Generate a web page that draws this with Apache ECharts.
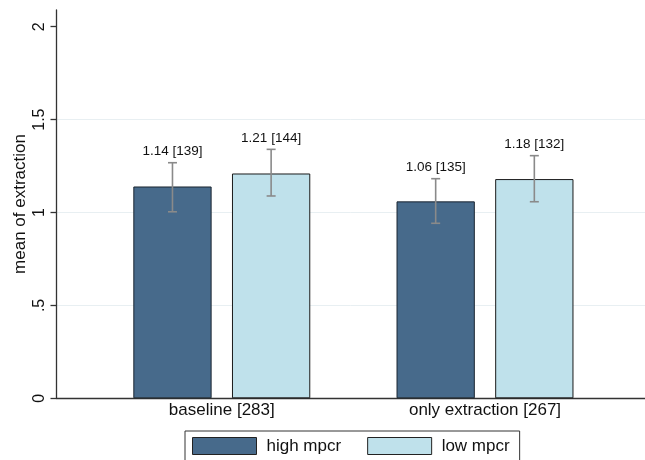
<!DOCTYPE html>
<html>
<head>
<meta charset="utf-8">
<script src="https://cdn.jsdelivr.net/npm/echarts@6/dist/echarts.min.js"></script>
<style>html,body{margin:0;padding:0;background:#fff;}#c{width:645px;height:460px;}</style>
</head>
<body>
<div id="c"></div>
<script>
const categories = ['baseline [283]', 'only extraction [267]'];
const seriesNames = ['high mpcr', 'low mpcr'];
const highMean = [1.14, 1.06];
const lowMean = [1.21, 1.18];
const highN = [139, 135];
const lowN = [144, 132];
const highCI = [[1.004, 1.268], [0.942, 1.182]];
const lowCI = [[1.089, 1.340], [1.058, 1.306]];
const yTicks = [0, 0.5, 1, 1.5, 2];
const yTickLabels = ['0', '.5', '1', '1.5', '2'];
const yTitle = 'mean of extraction';

const FONT = '"Liberation Sans", Arial, Helvetica, sans-serif';
const BAR_W = 78.3;
const BAR_GAP = 0.26;
const OFFSET = (BAR_W + BAR_W * BAR_GAP) / 2;
const DARK = '#476a8b';
const LIGHT = '#bfe1eb';

function errSeries(name, ci, means, ns, sign) {
  return {
    type: 'custom',
    name: name + ' ci',
    xAxisIndex: 0, yAxisIndex: 0,
    z: 5,
    silent: true,
    data: categories.map((c, i) => [i, ci[i][0], ci[i][1], means[i].toFixed(2) + ' [' + ns[i] + ']']),
    renderItem: function (params, api) {
      const cx = api.coord([api.value(0), 0])[0] + sign * OFFSET;
      const yl = api.coord([api.value(0), api.value(1)])[1];
      const yh = api.coord([api.value(0), api.value(2)])[1];
      const st = { stroke: '#8a8a8a', lineWidth: 1.6 };
      const cap = 4.5;
      return {
        type: 'group',
        children: [
          { type: 'line', shape: { x1: cx, y1: yl, x2: cx, y2: yh }, style: st },
          { type: 'line', shape: { x1: cx - cap, y1: yl, x2: cx + cap, y2: yl }, style: st },
          { type: 'line', shape: { x1: cx - cap, y1: yh, x2: cx + cap, y2: yh }, style: st },
          { type: 'text', x: cx, y: yh - 4, style: {
              text: api.value(3), fill: '#111', font: '13.5px ' + FONT,
              textAlign: 'center', textVerticalAlign: 'bottom' } }
        ]
      };
    }
  };
}

const chart = echarts.init(document.getElementById('c'), null, { renderer: 'canvas' });
chart.setOption({
  animation: false,
  backgroundColor: '#fff',
  textStyle: { fontFamily: FONT },
  grid: [
    { left: 90.2, right: 28.4, top: 10, bottom: 61.7 },
    { left: 56.5, right: 0, top: 10, bottom: 61.7 }
  ],
  graphic: [
    { type: 'text', x: 20, y: 204, rotation: Math.PI / 2,
      style: { text: yTitle, fill: '#111', font: '17px ' + FONT,
        textAlign: 'center', textVerticalAlign: 'middle' } }
  ],
  xAxis: [
    { type: 'category', gridIndex: 0, data: categories,
      axisLine: { show: false }, axisTick: { show: false },
      axisLabel: { fontSize: 17, color: '#111', margin: 4, fontFamily: FONT } },
    { type: 'category', gridIndex: 1, data: [''],
      axisLine: { show: true, lineStyle: { color: '#333', width: 1.3 } },
      axisTick: { show: false }, axisLabel: { show: false } }
  ],
  yAxis: [
    { type: 'value', gridIndex: 0, min: 0, max: 2.09, show: false, splitLine: { show: false } },
    { type: 'value', gridIndex: 1, min: 0, max: 2.09, interval: 0.5,
      axisLine: { show: true, lineStyle: { color: '#333', width: 1.3 } },
      axisTick: { show: true, length: 6, lineStyle: { color: '#333', width: 1.3 }, customValues: yTicks },
      axisLabel: { rotate: 90, fontSize: 16, color: '#111', margin: 9, fontFamily: FONT,
        align: 'center', verticalAlign: 'bottom',
        customValues: yTicks,
        formatter: function (v) { const k = yTicks.indexOf(v); return k >= 0 ? yTickLabels[k] : ''; } },
      splitLine: { show: true, lineStyle: { width: 1,
        color: ['rgba(0,0,0,0)', '#e8eff2', '#e8eff2', '#e8eff2', 'rgba(0,0,0,0)', 'rgba(0,0,0,0)'] } }
    }
  ],
  legend: {
    data: seriesNames,
    left: 185, top: 431,
    orient: 'horizontal',
    itemWidth: 64, itemHeight: 17, itemGap: 26,
    padding: [6, 10, 8, 7],
    borderColor: '#333', borderWidth: 1,
    backgroundColor: '#fff',
    icon: 'rect',
    itemStyle: { borderColor: '#222', borderWidth: 1 },
    textStyle: { fontSize: 17, color: '#111', fontFamily: FONT, padding: [0, 0, 0, 5] }
  },
  series: [
    { type: 'bar', name: seriesNames[0], xAxisIndex: 0, yAxisIndex: 0, data: highMean,
      barWidth: BAR_W, barGap: (BAR_GAP * 100) + '%',
      itemStyle: { color: DARK, borderColor: '#1a2530', borderWidth: 1 } },
    { type: 'bar', name: seriesNames[1], xAxisIndex: 0, yAxisIndex: 0, data: lowMean,
      barWidth: BAR_W, barGap: (BAR_GAP * 100) + '%',
      itemStyle: { color: LIGHT, borderColor: '#1a1a1a', borderWidth: 1 } },
    errSeries(seriesNames[0], highCI, highMean, highN, -1),
    errSeries(seriesNames[1], lowCI, lowMean, lowN, 1)
  ]
});
</script>
</body>
</html>
